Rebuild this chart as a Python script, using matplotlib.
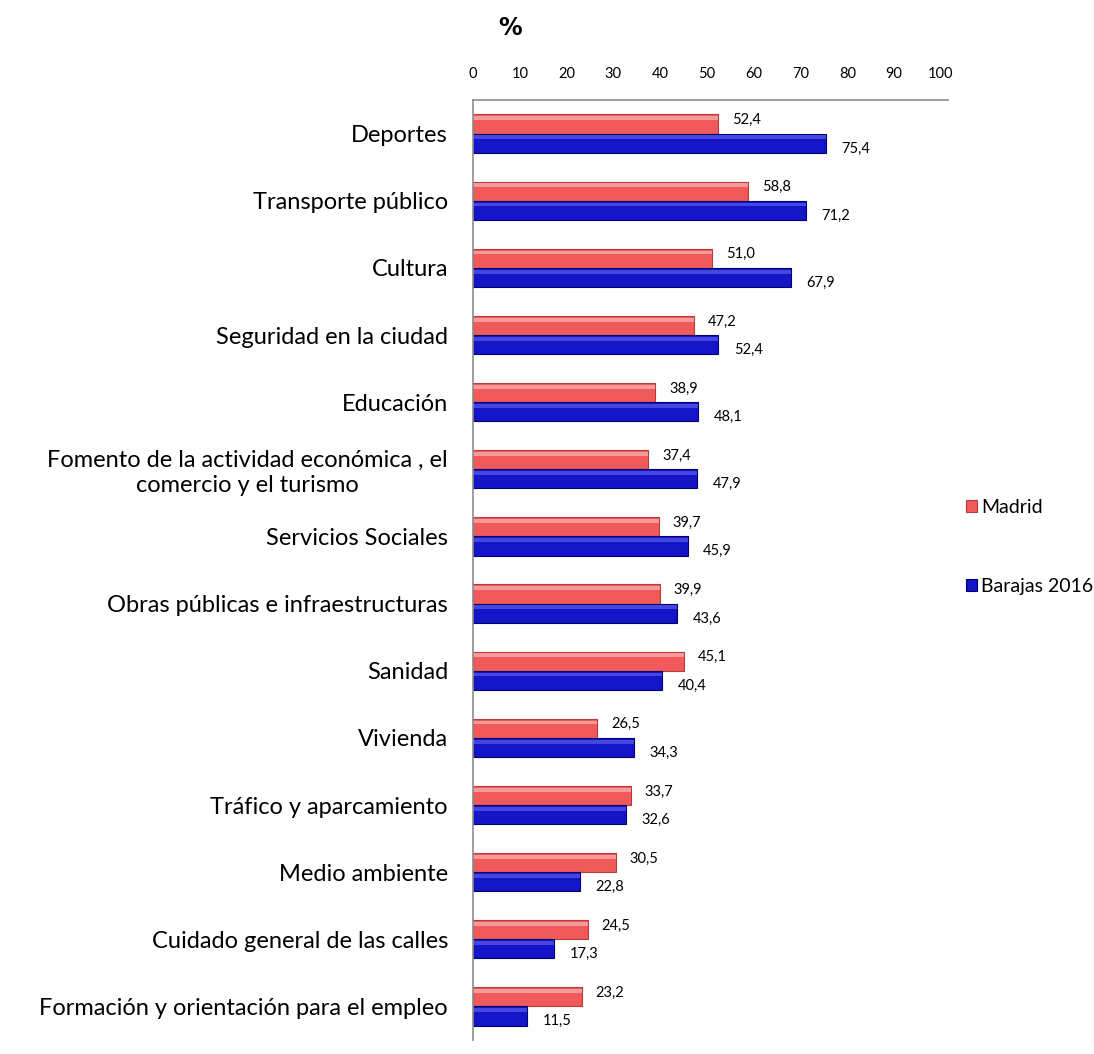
import numpy as np
import matplotlib.pyplot as plt

categorias = ['Deportes', 'Transporte público', 'Cultura', 'Seguridad en la ciudad',
              'Educación', 'Fomento de la actividad económica , el\ncomercio y el turismo',
              'Servicios Sociales', 'Obras públicas e infraestructuras', 'Sanidad',
              'Vivienda', 'Tráfico y aparcamiento', 'Medio ambiente',
              'Cuidado general de las calles', 'Formación y orientación para el empleo']
madrid = [52.4, 58.8, 51.0, 47.2, 38.9, 37.4, 39.7, 39.9, 45.1, 26.5, 33.7, 30.5, 24.5, 23.2]
barajas = [75.4, 71.2, 67.9, 52.4, 48.1, 47.9, 45.9, 43.6, 40.4, 34.3, 32.6, 22.8, 17.3, 11.5]

plt.rcParams['font.family'] = ['Lato', 'DejaVu Sans']

fig = plt.figure(figsize=(10.94, 10.54), dpi=100)
ax = fig.add_axes([473 / 1094, 14 / 1054, (948 - 473) / 1094, (1040 - 100) / 1054])

y = np.arange(len(categorias))
h = 0.285
red, red_edge = '#F05A5A', '#B83A3A'
blue, blue_edge = '#1515C8', '#000070'

ax.barh(y - h / 2, madrid, height=h, color=red, edgecolor=red_edge, linewidth=0.8, label='Madrid')
ax.barh(y + h / 2, barajas, height=h, color=blue, edgecolor=blue_edge, linewidth=0.8, label='Barajas 2016')
# brillo superior (efecto bisel)
ax.barh(y - h / 2 - h * 0.3, madrid, height=h * 0.2, color='#F79A9A', linewidth=0)
ax.barh(y + h / 2 - h * 0.3, barajas, height=h * 0.2, color='#4545E0', linewidth=0)

fmt = lambda v: f'{v:.1f}'.replace('.', ',')
for i in range(len(categorias)):
    ax.text(madrid[i] + 3.0, y[i] - h / 2 - 0.06, fmt(madrid[i]), fontsize=10.5, va='center')
    ax.text(barajas[i] + 3.3, y[i] + h / 2 + 0.08, fmt(barajas[i]), fontsize=10.5, va='center')

ax.set_xlim(0, 101.5)
ax.set_ylim(len(categorias) - 0.5, -0.5)
ax.set_xticks(range(0, 101, 10))
ax.xaxis.tick_top()
ax.tick_params(axis='x', length=0, labelsize=10.5, pad=14)
ax.tick_params(axis='y', length=0, labelsize=17, pad=18)
ax.set_yticks(y)
ax.set_yticklabels(categorias, ha='right', multialignment='center')
for s in ['right', 'bottom']:
    ax.spines[s].set_visible(False)
for s in ['left', 'top']:
    ax.spines[s].set_color('#8C8C8C')
    ax.spines[s].set_linewidth(1.2)

fig.text(510 / 1094, 1 - 28 / 1054, '%', fontsize=17, fontweight='bold', ha='center', va='center',
         family='DejaVu Sans')

fig.legend(loc='center left', bbox_to_anchor=(948 / 1094, 1 - 547 / 1054), frameon=False,
           fontsize=14, handlelength=0.6, handleheight=0.6, handletextpad=0.2, labelspacing=3.2)

fig.savefig('out.png', dpi=100)
